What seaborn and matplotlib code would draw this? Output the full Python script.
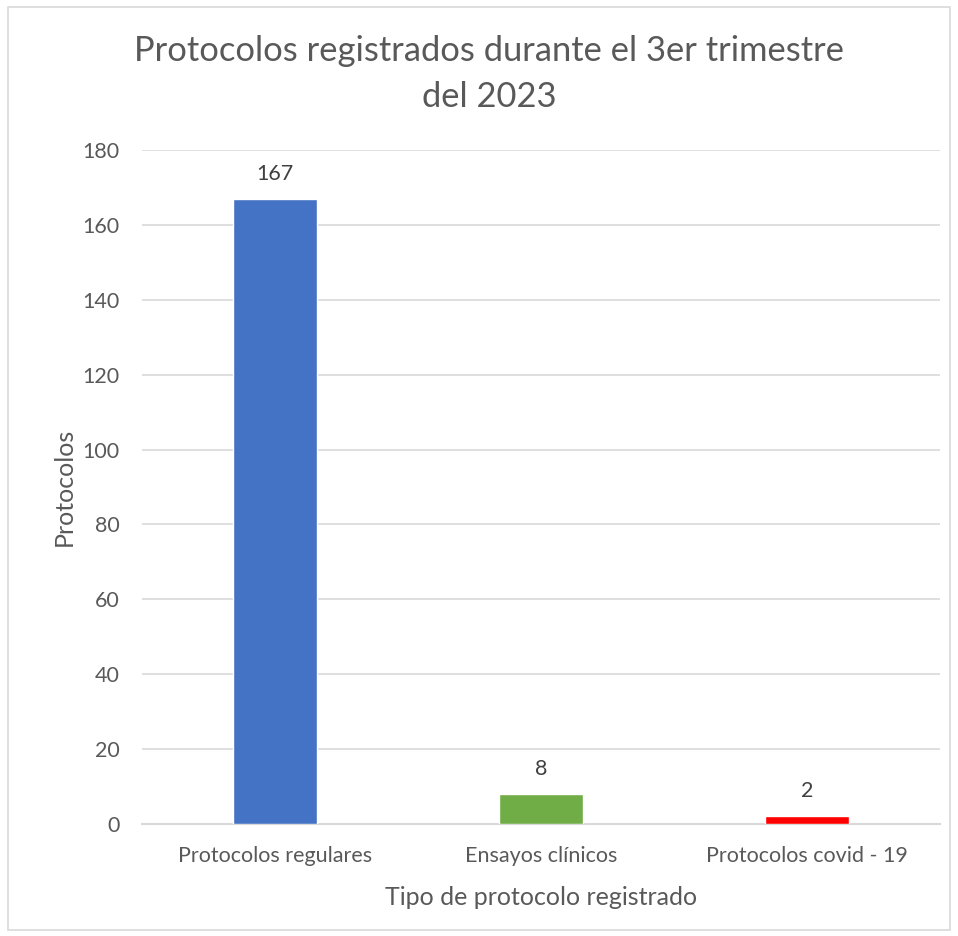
import matplotlib.pyplot as plt
import seaborn as sns
import pandas as pd
from matplotlib.patches import Rectangle

# ── Data ──────────────────────────────────────────────────────────────────────
categorias = ["Protocolos regulares", "Ensayos clínicos", "Protocolos covid - 19"]
protocolos = [167, 8, 2]
colores = ["#4472C4", "#70AD47", "#FF0000"]

TEXT = "#595959"
GRID = "#D9D9D9"

# ── Style ─────────────────────────────────────────────────────────────────────
sns.set_theme(style="white")
plt.rcParams["font.family"] = ["Lato", "DejaVu Sans"]

df = pd.DataFrame({"tipo": categorias, "n": protocolos})

fig = plt.figure(figsize=(9.58, 9.36), dpi=100)
ax = fig.add_axes([0.1482, 0.1197, 0.8330, 0.72])

sns.barplot(data=df, x="tipo", y="n", hue="tipo", palette=colores,
            legend=False, width=0.316, saturation=1, ax=ax, zorder=3)

ax.set_ylim(0, 180)
ax.set_yticks(range(0, 181, 20))
ax.set_xlim(-0.5, 2.5)
ax.grid(axis="y", color=GRID, lw=1.2, zorder=0)
for s in ["top", "right", "left"]:
    ax.spines[s].set_visible(False)
ax.spines["bottom"].set_color(GRID)
ax.spines["bottom"].set_linewidth(1.5)
ax.tick_params(axis="x", length=0, labelsize=15.5, labelcolor=TEXT, pad=16)
ax.tick_params(axis="y", length=0, labelsize=15.5, labelcolor=TEXT, pad=16)

for i, v in enumerate(protocolos):
    ax.text(i, v + 4, str(v), ha="center", va="bottom", fontsize=15.5, color="#404040")

ax.set_xlabel("Tipo de protocolo registrado", fontsize=18, color=TEXT, labelpad=14)
ax.set_ylabel("Protocolos", fontsize=18, color=TEXT, labelpad=5)

fig.text(0.5104, 0.921, "Protocolos registrados durante el 3er trimestre\ndel 2023",
         ha="center", va="center", fontsize=24.8, color=TEXT, linespacing=1.55)

# chart border
fig.patches.append(Rectangle((8 / 958, 6 / 936), 942 / 958, 923 / 936,
                             transform=fig.transFigure, fill=False,
                             edgecolor="#D9D9D9", lw=1.2))

fig.savefig("out.png", dpi=100)
plt.close()
